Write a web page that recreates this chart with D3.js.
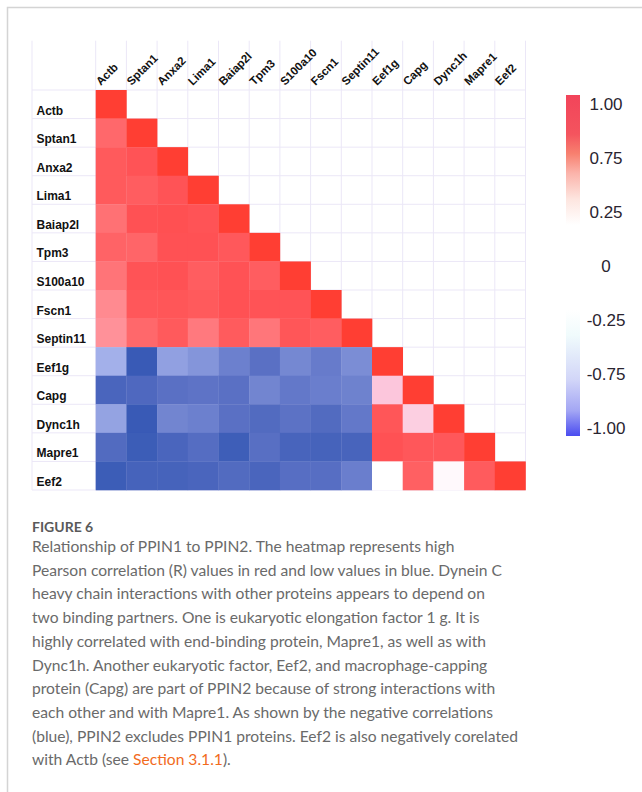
<!DOCTYPE html>
<html>
<head>
<meta charset="utf-8">
<script src="https://cdn.jsdelivr.net/npm/d3@7"></script>
<style>
  html, body { margin: 0; padding: 0; background: #fff; }
  svg { display: block; }
</style>
</head>
<body>
<div id="container"></div>
<script>
// proteins, same order on both axes
const proteins = ["Actb", "Sptan1", "Anxa2", "Lima1", "Baiap2l", "Tpm3", "S100a10",
  "Fscn1", "Septin11", "Eef1g", "Capg", "Dync1h", "Mapre1", "Eef2"];

// lower triangle of the correlation matrix (row i has i+1 values)
const corrRows = [
  [1],
  [0.65, 1],
  [0.75, 0.80, 1],
  [0.75, 0.72, 0.80, 1],
  [0.60, 0.82, 0.83, 0.80, 1],
  [0.68, 0.67, 0.82, 0.82, 0.76, 1],
  [0.58, 0.80, 0.82, 0.72, 0.81, 0.72, 1],
  [0.45, 0.77, 0.78, 0.75, 0.82, 0.80, 0.80, 1],
  [0.42, 0.65, 0.75, 0.55, 0.74, 0.57, 0.78, 0.72, 1],
  [-0.35, -0.95, -0.45, -0.52, -0.65, -0.75, -0.60, -0.68, -0.57, 1],
  [-0.85, -0.82, -0.75, -0.73, -0.75, -0.62, -0.70, -0.66, -0.64, 0.20, 1],
  [-0.43, -0.95, -0.62, -0.65, -0.75, -0.80, -0.74, -0.80, -0.70, 0.78, 0.17, 1],
  [-0.80, -0.93, -0.85, -0.78, -0.92, -0.76, -0.86, -0.87, -0.86, 0.82, 0.77, 0.77, 1],
  [-0.93, -0.87, -0.87, -0.85, -0.80, -0.85, -0.77, -0.77, -0.66, 0.00, 0.70, 0.02, 0.74, 1]
];

// legend tick labels, top to bottom
const legendTicks = ["1.00", "0.75", "0.25", "0", "-0.25", "-0.75", "-1.00"];

const captionTitle = "FIGURE 6";
const captionLines = [
  "Relationship of PPIN1 to PPIN2. The heatmap represents high",
  "Pearson correlation (R) values in red and low values in blue. Dynein C",
  "heavy chain interactions with other proteins appears to depend on",
  "two binding partners. One is eukaryotic elongation factor 1 g. It is",
  "highly correlated with end-binding protein, Mapre1, as well as with",
  "Dync1h. Another eukaryotic factor, Eef2, and macrophage-capping",
  "protein (Capg) are part of PPIN2 because of strong interactions with",
  "each other and with Mapre1. As shown by the negative correlations",
  "(blue), PPIN2 excludes PPIN1 proteins. Eef2 is also negatively corelated",
  "with Actb (see "
];
const captionLink = "Section 3.1.1";
const captionEnd = ").";

const width = 642, height = 792;

const cells = corrRows.flatMap((row, i) => row.map((v, j) => ({ row: proteins[i], col: proteins[j], v })));

const svg = d3.select("#container").append("svg")
  .attr("width", width)
  .attr("height", height);

// page frame
svg.append("path")
  .attr("d", "M7.5,792 V7.5 H642")
  .attr("fill", "none")
  .attr("stroke", "#d4d4d4")
  .attr("stroke-width", 1.5);

const x = d3.scaleBand().domain(proteins).range([95.7, 525.5]);
const y = d3.scaleBand().domain(proteins).range([90, 490]);
const gridLeft = 32, gridTop = 40.7;

const color = d3.scaleLinear()
  .domain([-1, -0.75, -0.35, 0, 0.2, 0.45, 0.7, 0.85, 1])
  .range(["#3155b2", "#5a70c4", "#a3b0ea", "#ffffff", "#fcc6dc", "#ff8a90", "#ff6062", "#ff4d50", "#ff3e33"]);

// grid lines
const grid = svg.append("g").attr("stroke", "#ebe7f7").attr("stroke-width", 1);
const xEdges = [gridLeft].concat(proteins.map(p => x(p)), [x.range()[1]]);
grid.selectAll("line.v").data(xEdges).join("line")
  .attr("class", "v")
  .attr("x1", d => d).attr("x2", d => d)
  .attr("y1", gridTop).attr("y2", y.range()[1]);
const yEdges = proteins.map(p => y(p)).concat([y.range()[1]]);
grid.selectAll("line.h").data(yEdges).join("line")
  .attr("class", "h")
  .attr("x1", gridLeft).attr("x2", x.range()[1])
  .attr("y1", d => d).attr("y2", d => d);

// cells
svg.append("g").selectAll("rect").data(cells).join("rect")
  .attr("x", d => x(d.col))
  .attr("y", d => y(d.row))
  .attr("width", x.bandwidth() + 0.3)
  .attr("height", y.bandwidth() + 0.3)
  .attr("fill", d => color(d.v));

// row labels
svg.append("g").selectAll("text").data(proteins).join("text")
  .attr("x", 36.5)
  .attr("y", d => y(d) + y.bandwidth() - 4)
  .attr("font-family", "Liberation Sans, Arial, sans-serif")
  .attr("font-weight", "bold")
  .attr("font-size", 12)
  .attr("fill", "#111")
  .text(d => d);

// column labels, slanted
svg.append("g").selectAll("text").data(proteins).join("text")
  .attr("transform", d => `translate(${x(d) + 5},86) rotate(-45)`)
  .attr("font-family", "Liberation Sans, Arial, sans-serif")
  .attr("font-weight", "bold")
  .attr("font-size", 11.5)
  .attr("fill", "#111")
  .text(d => d);

// legend
const defs = svg.append("defs");
const gTop = defs.append("linearGradient").attr("id", "gTop").attr("x1", 0).attr("x2", 0).attr("y1", 0).attr("y2", 1);
[[0, "#f2445a"], [0.3, "#f4545e"], [0.45, "#f7806f"], [0.6, "#fbb3aa"], [0.8, "#fde5df"], [1, "#ffffff"]]
  .forEach(([o, c]) => gTop.append("stop").attr("offset", o).attr("stop-color", c));
const gBot = defs.append("linearGradient").attr("id", "gBot").attr("x1", 0).attr("x2", 0).attr("y1", 0).attr("y2", 1);
[[0, "#ffffff"], [0.2, "#f0fbfc"], [0.55, "#d2d6f8"], [0.8, "#a3a6f4"], [1, "#4a4cf0"]]
  .forEach(([o, c]) => gBot.append("stop").attr("offset", o).attr("stop-color", c));

const ly = d3.scalePoint().domain(legendTicks).range([104, 428]);
svg.append("rect").attr("x", 566).attr("y", 95).attr("width", 14).attr("height", 130).attr("fill", "url(#gTop)");
svg.append("rect").attr("x", 566).attr("y", 310).attr("width", 14).attr("height", 126).attr("fill", "url(#gBot)");
svg.append("g").selectAll("text").data(legendTicks).join("text")
  .attr("x", 606)
  .attr("y", d => ly(d))
  .attr("dy", "0.35em")
  .attr("text-anchor", "middle")
  .attr("font-family", "Liberation Sans, Arial, sans-serif")
  .attr("font-size", 17)
  .attr("fill", "#2a2430")
  .text(d => d);

// caption
svg.append("text")
  .attr("x", 32).attr("y", 532)
  .attr("font-family", "Lato, sans-serif")
  .attr("font-weight", "bold")
  .attr("font-size", 14)
  .attr("fill", "#5a5a5a")
  .text(captionTitle);

const cap = svg.append("g")
  .attr("font-family", "Lato, sans-serif")
  .attr("font-size", 16)
  .attr("fill", "#6a6a6a");
const lines = cap.selectAll("text").data(captionLines).join("text")
  .attr("x", 32)
  .attr("y", (d, i) => 552 + i * 23.7)
  .text(d => d);

// fit the caption width to the reference (line 2 is ~470px wide)
const w2 = lines.nodes()[1].getComputedTextLength();
const fs = 16 * 470 / w2;
cap.attr("font-size", fs);
const last = lines.filter((d, i) => i === captionLines.length - 1);
last.append("tspan").attr("fill", "#f26b1d").text(captionLink);
last.append("tspan").text(captionEnd);
</script>
</body>
</html>
